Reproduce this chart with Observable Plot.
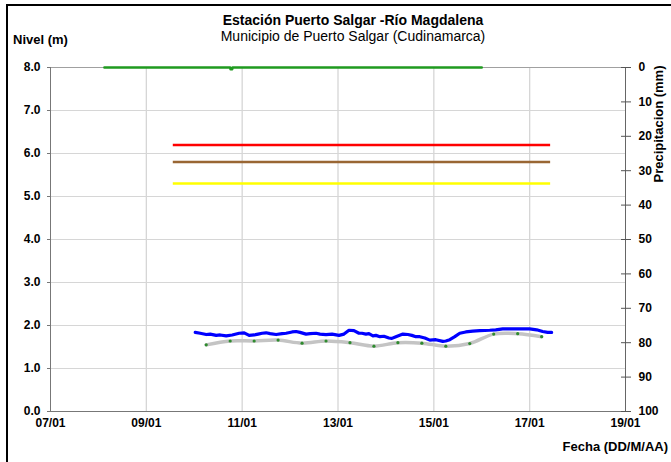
<!DOCTYPE html>
<html>
<head>
<meta charset="utf-8">
<script src="https://cdn.jsdelivr.net/npm/d3@7"></script>
<script src="https://cdn.jsdelivr.net/npm/@observablehq/plot@0.6"></script>
<style>
  html, body { margin: 0; padding: 0; background: #fff; }
  #wrap { position: relative; width: 671px; height: 462px; overflow: hidden; font-family: "Liberation Sans", Arial, sans-serif; }
  #frame { position: absolute; left: 6px; top: 4px; right: -4px; bottom: -10px; border-top: 2px solid #000; border-left: 2px solid #000; pointer-events: none; }
  .t { position: absolute; white-space: nowrap; color: #000; }
  #title { left: 0; width: 706px; top: 12px; text-align: center; font-weight: bold; font-size: 14px; }
  #subtitle { left: 0; width: 706px; top: 28px; text-align: center; font-size: 14px; }
  #ylab { left: 13px; top: 32px; font-weight: bold; font-size: 13px; }
  #xlab { right: 3px; top: 439px; font-weight: bold; font-size: 13px; }
  #plot { position: absolute; left: 0; top: 0; }
</style>
</head>
<body>
<div id="wrap">
  <div id="plot"></div>
  <div id="frame"></div>
  <div class="t" id="title">Estación Puerto Salgar -Río Magdalena</div>
  <div class="t" id="subtitle">Municipio de Puerto Salgar (Cudinamarca)</div>
  <div class="t" id="ylab">Nivel (m)</div>
  <div class="t" id="xlab">Fecha (DD/M/AA)</div>
</div>
<script>
// ---- data ----
const xDomain = ["2011-01-07T00:00", "2011-01-19T00:00"];
const xTicks = ["2011-01-07T00:00", "2011-01-09T00:00", "2011-01-11T00:00", "2011-01-13T00:00", "2011-01-15T00:00", "2011-01-17T00:00", "2011-01-19T00:00"];
const levelTicks = [0, 1, 2, 3, 4, 5, 6, 7, 8];
const precipTicks = [0, 10, 20, 30, 40, 50, 60, 70, 80, 90, 100];

// level from automatic sensor (blue)
const obsTimes = ["2011-01-10T00:30","2011-01-10T03:00","2011-01-10T06:00","2011-01-10T08:00","2011-01-10T11:00","2011-01-10T13:00","2011-01-10T16:00","2011-01-10T19:00","2011-01-10T22:30",
  "2011-01-11T01:00","2011-01-11T03:30","2011-01-11T06:00","2011-01-11T08:00","2011-01-11T10:00","2011-01-11T12:00","2011-01-11T14:00","2011-01-11T17:00","2011-01-11T20:00","2011-01-11T22:00",
  "2011-01-12T01:00","2011-01-12T03:00","2011-01-12T05:00","2011-01-12T08:00","2011-01-12T10:00","2011-01-12T13:00","2011-01-12T15:00","2011-01-12T18:00","2011-01-12T21:00",
  "2011-01-13T00:30","2011-01-13T03:00","2011-01-13T05:30","2011-01-13T08:00","2011-01-13T10:30","2011-01-13T12:00","2011-01-13T14:00","2011-01-13T15:30","2011-01-13T17:30","2011-01-13T19:00","2011-01-13T21:00","2011-01-13T23:00",
  "2011-01-14T01:30","2011-01-14T03:00","2011-01-14T05:00","2011-01-14T08:30","2011-01-14T11:00","2011-01-14T13:00","2011-01-14T15:00","2011-01-14T17:00","2011-01-14T19:30","2011-01-14T22:00",
  "2011-01-15T01:00","2011-01-15T04:30","2011-01-15T06:00","2011-01-15T08:00","2011-01-15T10:30","2011-01-15T13:00","2011-01-15T16:00","2011-01-15T19:30","2011-01-15T23:00",
  "2011-01-16T04:00","2011-01-16T07:00","2011-01-16T10:30","2011-01-16T15:00","2011-01-16T20:00","2011-01-17T00:00","2011-01-17T03:30","2011-01-17T06:30","2011-01-17T09:00","2011-01-17T11:00"];
const obsLevels = [1.84,1.82,1.79,1.80,1.77,1.78,1.76,1.78,1.82,
  1.83,1.77,1.78,1.80,1.82,1.83,1.81,1.79,1.81,1.82,
  1.85,1.86,1.84,1.80,1.81,1.82,1.80,1.79,1.80,
  1.77,1.80,1.89,1.88,1.82,1.82,1.80,1.81,1.76,1.77,1.74,1.75,
  1.71,1.70,1.74,1.80,1.79,1.77,1.74,1.74,1.71,1.66,
  1.67,1.63,1.64,1.67,1.74,1.82,1.85,1.87,1.88,
  1.89,1.90,1.92,1.92,1.92,1.92,1.90,1.86,1.84,1.84];

// twice-daily readings (grey line with green dots)
const readTimes = ["2011-01-10T06:00","2011-01-10T18:00","2011-01-11T06:00","2011-01-11T18:00","2011-01-12T06:00",
  "2011-01-12T18:00","2011-01-13T06:00","2011-01-13T18:00","2011-01-14T06:00","2011-01-14T18:00",
  "2011-01-15T06:00","2011-01-15T18:00","2011-01-16T06:00","2011-01-16T18:00","2011-01-17T06:00"];
const readLevels = [1.55,1.64,1.64,1.66,1.59,1.64,1.60,1.52,1.60,1.59,1.52,1.58,1.80,1.81,1.74];

// precipitation (mm, right reversed axis)
const precipTimes = ["2011-01-08T03:00","2011-01-10T18:00","2011-01-10T18:10","2011-01-10T19:00","2011-01-10T19:10","2011-01-16T00:00"];
const precipValues = [0, 0, 0.5, 0.5, 0, 0];

// alert thresholds
const thrNames = ["Roja", "Naranja", "Amarilla"];
const thrLevels = [6.2, 5.8, 5.3];
const thrColors = ["#ff0000", "#996633", "#ffff00"];
const thrStart = "2011-01-09T13:30";
const thrEnd = "2011-01-17T10:30";

// ---- build ----
const parse = d3.utcParse("%Y-%m-%dT%H:%M");
const pmax = 100, lmax = 8;
const toLevel = p => lmax - p * lmax / pmax;
const toPrecip = l => Math.round((lmax - l) * pmax / lmax);

const obs = obsTimes.map((t, i) => ({t: parse(t), v: obsLevels[i]}));
const reads = readTimes.map((t, i) => ({t: parse(t), v: readLevels[i]}));
const precip = precipTimes.map((t, i) => ({t: parse(t), v: toLevel(precipValues[i])}));
const thr = thrNames.map((n, i) => ({n, v: thrLevels[i], c: thrColors[i], t1: parse(thrStart), t2: parse(thrEnd)}));
const xd = xDomain.map(parse);
const xt = xTicks.map(parse);

const chart = Plot.plot({
  width: 671, height: 462,
  marginLeft: 50, marginRight: 46, marginTop: 67, marginBottom: 51,
  style: {fontFamily: "'Liberation Sans', Arial, sans-serif", fontSize: "12px", fontWeight: "bold", color: "#000", background: "transparent"},
  x: {type: "utc", domain: xd},
  y: {domain: [0, lmax]},
  marks: [
    Plot.ruleX(xt.slice(1, -1), {stroke: "#d6d6d6", strokeWidth: 1.3}),
    Plot.ruleY(levelTicks.slice(1), {stroke: "#d6d6d6", strokeWidth: 1.2}),
    Plot.ruleY([lmax], {stroke: "#a0a0a0"}),
    Plot.ruleX([xd[0]], {stroke: "#777"}),
    Plot.ruleX([xd[1]], {stroke: "#666"}),
    Plot.ruleY([0], {stroke: "#777"}),
    Plot.axisY({ticks: levelTicks, tickFormat: d3.format(".1f"), tickSize: 3, tickPadding: 7, label: null, stroke: "#777"}),
    Plot.axisY({anchor: "right", ticks: precipTicks.map(toLevel), tickFormat: toPrecip, tickSize: 5, tickPadding: 8, label: null, stroke: "#555"}),
    Plot.axisY({anchor: "right", ticks: precipTicks.map(toLevel), tickFormat: () => "", tickSize: 5, dx: -5, label: null, stroke: "#555"}),
    Plot.axisX({ticks: xt, tickFormat: d3.utcFormat("%d/%m"), tickSize: 0, tickPadding: 7, label: null}),
    Plot.ruleY(thr, {y: "v", x1: "t1", x2: "t2", stroke: "c", strokeWidth: 2.5}),
    Plot.line(precip, {x: "t", y: "v", stroke: "#1f9a1f", strokeWidth: 2.5}),
    Plot.line(reads, {x: "t", y: "v", stroke: "#c4c4c4", strokeWidth: 3.5, curve: "catmull-rom"}),
    Plot.dot(reads, {x: "t", y: "v", r: 1.6, fill: "#2e8b2e"}),
    Plot.line(obs, {x: "t", y: "v", stroke: "#0000ff", strokeWidth: 3.2})
  ]
});
document.getElementById("plot").appendChild(chart);

// rotated right axis title
d3.select(chart).append("text")
  .attr("transform", "translate(663,124) rotate(-90)")
  .attr("text-anchor", "middle")
  .attr("font-family", "'Liberation Sans', Arial, sans-serif")
  .attr("font-size", 13).attr("font-weight", "bold").attr("fill", "#000")
  .text("Precipitacion (mm)");
</script>
</body>
</html>
